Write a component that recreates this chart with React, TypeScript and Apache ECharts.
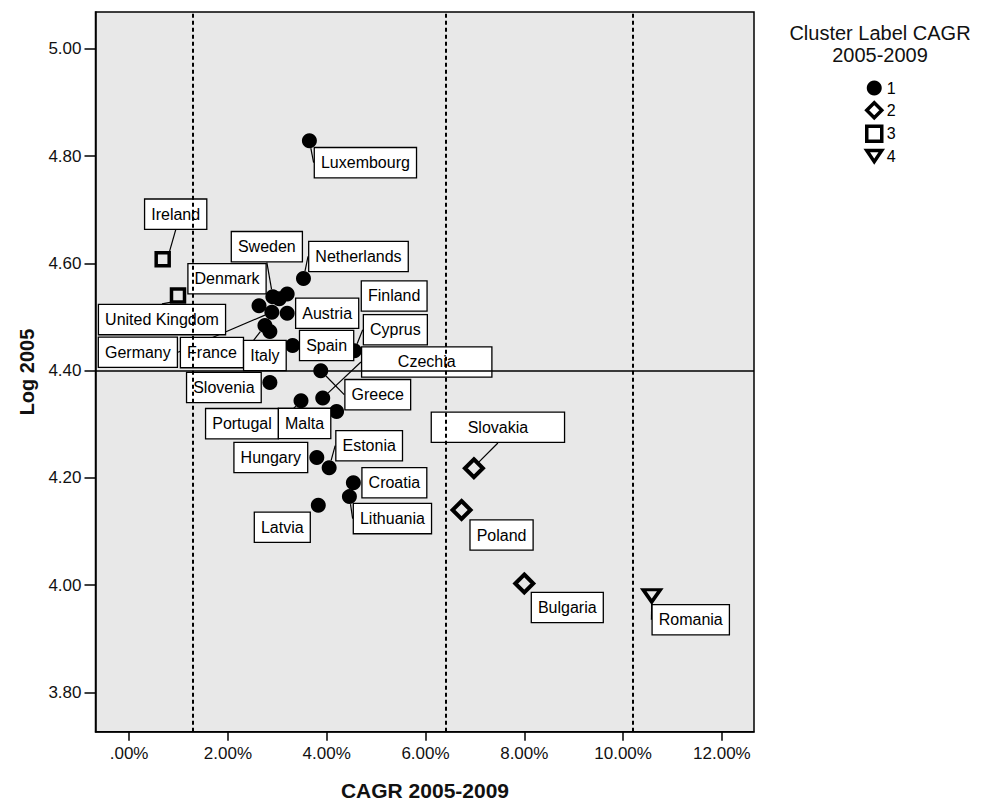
import React, { useEffect, useRef } from "react";
import * as echarts from "echarts";

// ---- data ----
const countries = [
  "Luxembourg", "Ireland", "United Kingdom", "Netherlands", "Sweden", "Belgium",
  "Finland", "Denmark", "Germany", "Austria", "France", "Italy", "Spain", "Cyprus",
  "Greece", "Czechia", "Slovenia", "Portugal", "Malta", "Hungary", "Estonia",
  "Croatia", "Lithuania", "Latvia", "Slovakia", "Poland", "Bulgaria", "Romania",
];
const cagr = [
  3.65, 0.68, 0.99, 3.53, 2.91, 3.04, 3.2, 2.63, 2.89, 3.2, 2.75, 2.85, 3.31, 4.56,
  3.88, 3.92, 2.85, 3.48, 4.2, 3.8, 4.05, 4.54, 4.46, 3.83, 6.98, 6.73, 8.0, 10.58,
];
const log2005 = [
  4.829, 4.608, 4.54, 4.572, 4.538, 4.534, 4.543, 4.521, 4.509, 4.507, 4.484, 4.473,
  4.447, 4.437, 4.4, 4.349, 4.378, 4.344, 4.324, 4.238, 4.219, 4.191, 4.165, 4.149,
  4.218, 4.14, 4.003, 3.98,
];
const cluster = [
  1, 3, 3, 1, 1, 1, 1, 1, 1, 1, 1, 1, 1, 1, 1, 1, 1, 1, 1, 1, 1, 1, 1, 1, 2, 2, 2, 4,
];
const unlabeled = ["Belgium"];
const clusterNames = ["1", "2", "3", "4"];
const xTicks = [0, 2, 4, 6, 8, 10, 12];
const yTicks = [3.8, 4.0, 4.2, 4.4, 4.6, 4.8, 5.0];
const verticalRefs = [1.29, 6.4, 10.2];
const horizontalRef = 4.4;

// ---- label placement (pixel offsets of label centre from its point) ----
const labelOffsets: Record<string, [number, number]> = {
  Luxembourg: [56, 22],
  Ireland: [13, -45],
  "United Kingdom": [-16, 24],
  Netherlands: [55, -22],
  Sweden: [-6, -50],
  Denmark: [-32, -27],
  Finland: [107, 2],
  Austria: [40, 0],
  Germany: [-134, 40],
  France: [-53, 27],
  Italy: [-5, 24],
  Spain: [34, 0],
  Cyprus: [41, -21],
  Greece: [57, 24],
  Czechia: [104, -36],
  Slovenia: [-46, 5],
  Portugal: [-59, 23],
  Malta: [-32, 12],
  Estonia: [40, -22],
  Hungary: [-46, 0],
  Croatia: [41, 0],
  Lithuania: [43, 22],
  Latvia: [-36, 22],
  Slovakia: [24, -41],
  Poland: [40, 25],
  Bulgaria: [43, 24],
  Romania: [39, 24],
};
// labels drawn without a leader line in the reference
const noLeader = [
  "Finland", "Denmark", "Austria", "Spain", "Italy", "Slovenia", "Hungary",
  "Croatia", "Malta", "Latvia", "Poland", "Bulgaria",
];
const wideLabels: Record<string, number> = { Czechia: 117, Slovakia: 120 };

const FONT = '"Liberation Sans", Arial, sans-serif';
const HOLLOW = "rgba(0,0,0,0)";

const symbolStyles: Record<string, any> = {
  "1": { symbol: "circle", symbolSize: 15, itemStyle: { color: "#000", opacity: 1 } },
  "2": {
    symbol: "diamond",
    symbolSize: 18,
    itemStyle: { color: HOLLOW, borderColor: "#000", borderWidth: 4, opacity: 1 },
  },
  "3": {
    symbol: "rect",
    symbolSize: 13,
    itemStyle: { color: HOLLOW, borderColor: "#000", borderWidth: 3.5, opacity: 1 },
  },
  "4": {
    symbol: "triangle",
    symbolSize: [17, 12],
    symbolRotate: 180,
    itemStyle: { color: HOLLOW, borderColor: "#000", borderWidth: 3.5, opacity: 1 },
  },
};

const legendIcons: Record<string, any> = {
  "1": { icon: "circle", itemStyle: { color: "#000", borderWidth: 0 } },
  "2": { icon: "diamond", itemStyle: { color: HOLLOW, borderColor: "#000", borderWidth: 3.5 } },
  "3": { icon: "rect", itemStyle: { color: HOLLOW, borderColor: "#000", borderWidth: 3.5 } },
  "4": {
    icon: "path://M0,0 L20,0 L10,15 Z",
    itemStyle: { color: HOLLOW, borderColor: "#000", borderWidth: 3.5 },
  },
};

export default function App() {
  const ref = useRef<HTMLDivElement>(null);

  useEffect(() => {
    if (!ref.current) return;
    const chart = echarts.init(ref.current, null, { renderer: "svg" });

    const series: any[] = clusterNames.map((cn) => {
      const data = countries
        .map((name, i) => ({ name, i }))
        .filter((d) => String(cluster[d.i]) === cn)
        .map(({ name, i }) => {
          const item: any = { name, value: [cagr[i], log2005[i]] };
          if (unlabeled.includes(name)) {
            item.label = { show: false };
            item.labelLine = { show: false };
          } else {
            if (wideLabels[name]) item.label = { width: wideLabels[name], align: "center" };
            if (noLeader.includes(name)) item.labelLine = { show: false };
          }
          return item;
        });
      const st = symbolStyles[cn];
      return {
        type: "scatter",
        name: cn,
        z: 2,
        ...st,
        data,
        label: {
          show: true,
          position: "inside",
          formatter: "{b}",
          color: "#000",
          fontFamily: FONT,
          fontSize: 16,
          lineHeight: 19,
          backgroundColor: "#fff",
          borderColor: "#000",
          borderWidth: 1.3,
          padding: [5, 6, 5, 6],
        },
        labelLine: { show: true, lineStyle: { color: "#000", width: 1.2, opacity: 1 } },
        labelLayout: (params: any) => {
          const o = labelOffsets[params.text];
          return o ? { dx: o[0], dy: o[1] } : {};
        },
        emphasis: { disabled: true },
      };
    });

    // reference lines drawn on top of labels
    series.push({
      type: "scatter",
      name: "refs",
      data: [],
      silent: true,
      z: 10,
      markLine: {
        silent: true,
        z: 10,
        symbol: ["none", "none"],
        label: { show: false },
        animation: false,
        data: [
          { yAxis: horizontalRef, lineStyle: { type: "solid", color: "#000", width: 1.5 } },
          ...verticalRefs.map((v) => ({
            xAxis: v,
            lineStyle: { type: [4, 3], color: "#000", width: 2 },
          })),
        ],
      },
    });

    chart.setOption({
      animation: false,
      backgroundColor: "#fff",
      grid: {
        left: 95.5,
        right: 230,
        top: 12,
        bottom: 71.3,
        show: true,
        backgroundColor: "#e8e8e8",
        borderColor: "#000",
        borderWidth: 1.5,
      },
      xAxis: {
        type: "value",
        min: -0.68,
        max: 12.65,
        splitLine: { show: false },
        axisLine: { show: true, onZero: false, lineStyle: { color: "#000", width: 1.5 } },
        axisTick: {
          show: true,
          length: 9,
          customValues: xTicks,
          lineStyle: { color: "#000", width: 1.5 },
        },
        axisLabel: {
          customValues: xTicks,
          margin: 13,
          color: "#111",
          fontFamily: FONT,
          fontSize: 17,
          formatter: (v: number) => (v === 0 ? ".00%" : v.toFixed(2) + "%"),
        },
      },
      yAxis: {
        type: "value",
        min: 3.7265,
        max: 5.069,
        splitLine: { show: false },
        axisLine: { show: true, onZero: false, lineStyle: { color: "#000", width: 1.5 } },
        axisTick: {
          show: true,
          length: 11,
          customValues: yTicks,
          lineStyle: { color: "#000", width: 1.5 },
        },
        axisLabel: {
          customValues: yTicks,
          margin: 14,
          color: "#111",
          fontFamily: FONT,
          fontSize: 17,
          formatter: (v: number) => v.toFixed(2),
        },
      },
      legend: {
        data: clusterNames.map((n) => ({ name: n, ...legendIcons[n] })),
        orient: "vertical",
        left: 865,
        top: 80,
        padding: 0,
        itemWidth: 15,
        itemHeight: 15,
        itemGap: 5,
        selectedMode: false,
        textStyle: { color: "#000", fontFamily: FONT, fontSize: 16 },
      },
      graphic: [
        {
          type: "text",
          x: 880,
          y: 22,
          style: {
            text: "Cluster Label CAGR\n2005-2009",
            align: "center",
            verticalAlign: "top",
            fontFamily: FONT,
            fontSize: 20,
            lineHeight: 22,
            fill: "#111",
          },
        },
        {
          type: "text",
          x: 27,
          y: 372,
          rotation: Math.PI / 2,
          style: {
            text: "Log 2005",
            align: "center",
            verticalAlign: "middle",
            fontFamily: FONT,
            fontWeight: "bold",
            fontSize: 20,
            fill: "#111",
          },
        },
        {
          type: "text",
          x: 425,
          y: 790,
          style: {
            text: "CAGR 2005-2009",
            align: "center",
            verticalAlign: "middle",
            fontFamily: FONT,
            fontWeight: "bold",
            fontSize: 21,
            fill: "#111",
          },
        },
      ],
      series,
    });

    return () => chart.dispose();
  }, []);

  return (
    <div
      ref={ref}
      style={{ position: "absolute", left: 0, top: 0, width: 984, height: 803 }}
    />
  );
}
